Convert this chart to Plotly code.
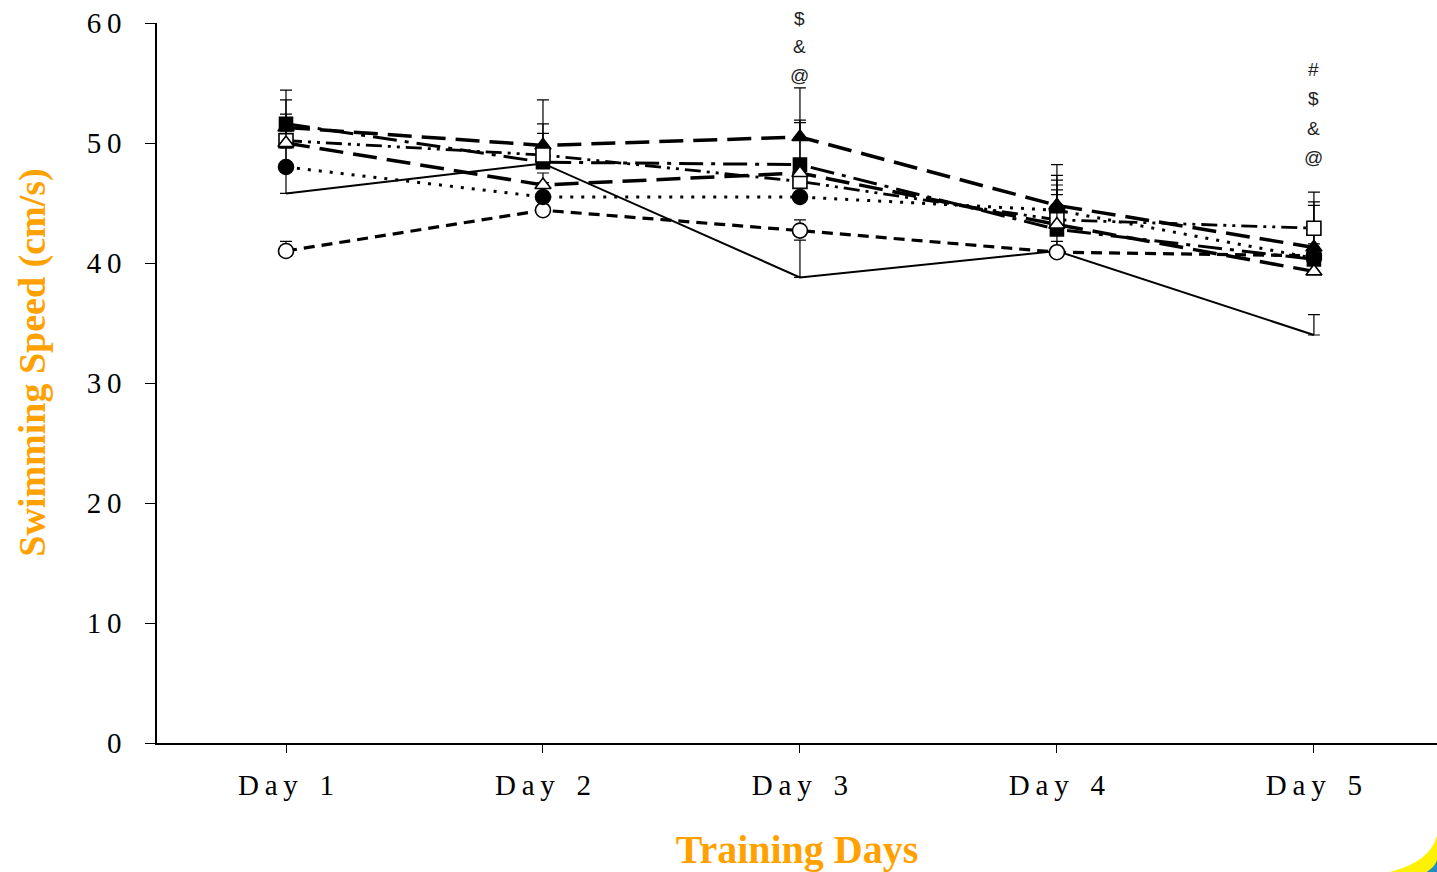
import plotly.graph_objects as go

days = ["Day 1", "Day 2", "Day 3", "Day 4", "Day 5"]
y_ticks = [0, 10, 20, 30, 40, 50, 60]
y_max = 60

solid_vals = [45.8, 48.3, 38.8, 41.0, 34.0]
solid_err = [6.6, 5.3, 3.1, 4.7, 1.7]

open_circle_vals = [41.0, 44.4, 42.7, 40.9, 40.6]
open_circle_err = [0.8, 0.9, 0.9, 0.9, 1.0]

filled_circle_vals = [48.0, 45.5, 45.5, 44.4, 40.4]
filled_circle_err = [1.6, 1.2, 1.5, 2.9, 1.9]

filled_tri_vals = [51.3, 49.8, 50.5, 44.8, 41.3]
filled_tri_err = [3.1, 1.8, 4.1, 3.4, 3.8]

filled_sq_vals = [51.6, 48.4, 48.2, 42.8, 40.3]
filled_sq_err = [2.0, 1.0, 3.7, 3.3, 4.5]

open_sq_vals = [50.2, 49.0, 46.8, 43.6, 42.9]
open_sq_err = [1.5, 1.8, 4.9, 3.3, 3.0]

open_tri_vals = [50.0, 46.5, 47.5, 43.2, 39.3]
open_tri_err = [1.0, 1.0, 1.0, 3.3, 1.0]

sig_day3 = ["$", "&", "@"]
sig_day3_y = [60.4, 58.0, 55.6]
sig_day5 = ["#", "$", "&", "@"]
sig_day5_y = [56.1, 53.7, 51.25, 48.8]


def spaced_day(label):
    word, num = label.split(" ")
    return "\u2009".join(word) + "\u00a0\u00a0\u00a0" + num


def spaced_num(v):
    return "\u2009".join(str(v))


series = [
    dict(name="Group A", y=solid_vals, e=solid_err, dash="solid", width=2,
         mode="lines", symbol="circle", fill="black", size=1),
    dict(name="Group B", y=open_circle_vals, e=open_circle_err, dash="11px,7px", width=3.2,
         mode="lines+markers", symbol="circle", fill="white", size=15),
    dict(name="Group C", y=filled_circle_vals, e=filled_circle_err, dash="3px,8px", width=3,
         mode="lines+markers", symbol="circle", fill="black", size=15),
    dict(name="Group D", y=filled_tri_vals, e=filled_tri_err, dash="24px,10px", width=3.5,
         mode="lines+markers", symbol="triangle-up", fill="black", size=14),
    dict(name="Group E", y=filled_sq_vals, e=filled_sq_err, dash="24px,8px,4px,8px", width=3,
         mode="lines+markers", symbol="square", fill="black", size=13),
    dict(name="Group F", y=open_sq_vals, e=open_sq_err, dash="16px,6px,3px,6px,3px,6px", width=2.8,
         mode="lines+markers", symbol="square", fill="white", size=14),
    dict(name="Group G", y=open_tri_vals, e=open_tri_err, dash="24px,10px", width=3.5,
         mode="lines+markers", symbol="triangle-up", fill="white", size=14),
]

fig = go.Figure()
for s in series:
    fig.add_trace(go.Scatter(
        x=days, y=s["y"], name=s["name"], mode=s["mode"],
        line=dict(color="black", width=s["width"], dash=s["dash"]),
        marker=dict(symbol=s["symbol"], size=s["size"], color=s["fill"],
                    line=dict(color="black", width=1.6)),
        error_y=dict(type="data", symmetric=False, array=s["e"],
                     arrayminus=[0] * len(s["e"]), color="black",
                     thickness=1.2, width=6),
        showlegend=False,
    ))

annotations = []
for t, yv in zip(sig_day3, sig_day3_y):
    annotations.append(dict(x="Day 3", y=yv / y_max, xref="x", yref="paper", text=t,
                            showarrow=False, xanchor="center", yanchor="middle",
                            font=dict(family="Liberation Sans", size=19, color="#222")))
for t, yv in zip(sig_day5, sig_day5_y):
    annotations.append(dict(x="Day 5", y=yv / y_max, xref="x", yref="paper", text=t,
                            showarrow=False, xanchor="center", yanchor="middle",
                            font=dict(family="Liberation Sans", size=19, color="#222")))
annotations.append(dict(x=-0.097, y=0.528, xref="paper", yref="paper",
                        xanchor="center", yanchor="middle",
                        text="<b>Swimming Speed (cm/s)</b>", textangle=-90, showarrow=False,
                        font=dict(family="Liberation Serif", size=38, color="#FFA200")))

fig.update_layout(
    width=1437, height=872,
    margin=dict(l=157, r=0, t=23, b=129),
    paper_bgcolor="white", plot_bgcolor="white",
    annotations=annotations,
    shapes=[
        dict(type="path", xref="paper", yref="paper",
             path="M 0.963,-0.179 Q 0.995,-0.165 1.0,-0.128 L 1.0,-0.179 Z",
             fillcolor="#FFF200", line=dict(width=0)),
        dict(type="path", xref="paper", yref="paper",
             path="M 0.992,-0.179 Q 0.998,-0.173 1.0,-0.163 L 1.0,-0.179 Z",
             fillcolor="#1E8FC4", line=dict(width=0)),
    ],
    xaxis=dict(
        type="category", categoryorder="array", categoryarray=days,
        tickmode="array", tickvals=days, ticktext=[spaced_day(d) for d in days],
        range=[-0.502, 4.479], showgrid=False, zeroline=False,
        showline=True, linecolor="black", linewidth=1.5,
        ticks="outside", ticklen=8, tickwidth=1.3, tickcolor="black",
        ticklabelstandoff=7,
        tickfont=dict(family="Liberation Serif", size=29, color="black"),
        title=dict(text="<b>Training Days</b>", standoff=36,
                   font=dict(family="Liberation Serif", size=40, color="#FFA200")),
    ),
    yaxis=dict(
        range=[0, y_max], tickmode="array", tickvals=y_ticks,
        ticktext=[spaced_num(v) for v in y_ticks],
        showgrid=False, zeroline=False,
        showline=True, linecolor="black", linewidth=1.5,
        ticks="outside", ticklen=10, tickwidth=1.3, tickcolor="black",
        ticklabelstandoff=18,
        tickfont=dict(family="Liberation Serif", size=29, color="black"),
    ),
)

fig.write_html("out.html", config={"displayModeBar": False},
               post_script="document.body.style.margin='0';document.body.style.overflow='hidden';")
